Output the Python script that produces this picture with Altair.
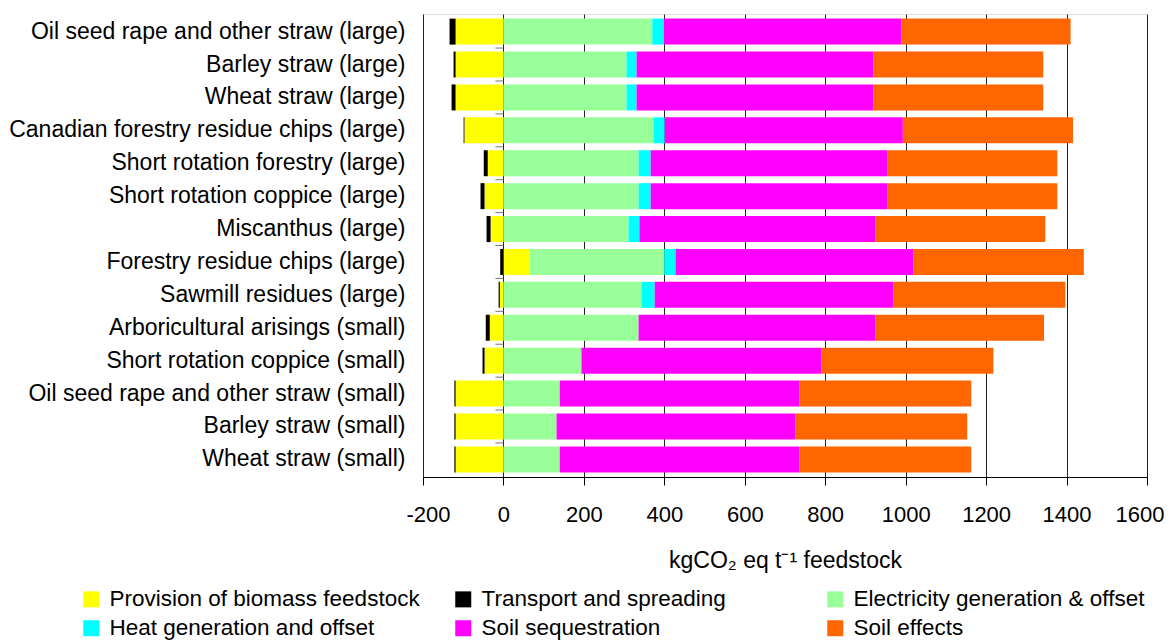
import altair as alt
import pandas as pd

categories = [
    "Oil seed rape and other straw (large)",
    "Barley straw (large)",
    "Wheat straw (large)",
    "Canadian forestry residue chips (large)",
    "Short rotation forestry (large)",
    "Short rotation coppice (large)",
    "Miscanthus (large)",
    "Forestry residue chips (large)",
    "Sawmill residues (large)",
    "Arboricultural arisings (small)",
    "Short rotation coppice (small)",
    "Oil seed rape and other straw (small)",
    "Barley straw (small)",
    "Wheat straw (small)",
]

series = [
    "Provision of biomass feedstock",
    "Transport and spreading",
    "Electricity generation & offset",
    "Heat generation and offset",
    "Soil sequestration",
    "Soil effects",
]
colors = ["#FFFF00", "#000000", "#99FF99", "#00FFFF", "#FF00FF", "#FF6600"]

provision = [-119, -119, -119, -97, -39, -47, -32, 65, -9, -34, -47, -119, -119, -119]
transport = [-15, -5, -10, -2, -10, -10, -10, -8, -3, -10, -5, -3, -3, -3]
electricity = [370, 306, 306, 373, 336, 336, 311, 335, 343, 336, 194, 140, 132, 140]
heat = [29, 25, 25, 28, 30, 30, 27, 28, 33, 0, 0, 0, 0, 0]
sequestration = [590, 589, 589, 592, 589, 589, 587, 591, 593, 589, 597, 596, 594, 596]
soil_effects = [421, 422, 422, 423, 422, 422, 422, 424, 428, 419, 427, 427, 427, 427]

x_ticks = [-200, 0, 200, 400, 600, 800, 1000, 1200, 1400, 1600]

values = [provision, transport, electricity, heat, sequestration, soil_effects]
rows = []
for si, (name, vals) in enumerate(zip(series, values)):
    for cat, v in zip(categories, vals):
        rows.append({"category": cat, "series": name, "order": si, "value": v})
df = pd.DataFrame(rows)

# legend fills column by column: order the domain so it reads row by row
legend_order = [0, 3, 1, 4, 2, 5]
legend_domain = [series[i] for i in legend_order]
legend_range = [colors[i] for i in legend_order]

FONT = "Liberation Sans"

bars = alt.Chart(df).mark_bar(strokeWidth=0).encode(
    y=alt.Y(
        "category:N",
        sort=categories,
        scale=alt.Scale(paddingInner=0.21, paddingOuter=0.14),
        axis=alt.Axis(
            title=None, labelFontSize=23, labelFont=FONT, labelColor="#000",
            labelPadding=18, ticks=False, tickSize=0, domain=False, grid=False,
            labelLimit=500,
        ),
    ),
    x=alt.X(
        "value:Q",
        stack="zero",
        scale=alt.Scale(domain=[-200, 1600], nice=False, zero=False),
        axis=alt.Axis(
            values=x_ticks, grid=True, gridColor="#222", gridWidth=1,
            domainColor="#000", tickColor="#000", tickSize=8,
            labelFontSize=22, labelFont=FONT, labelColor="#000", labelPadding=19,
            labelOverlap=False, labelFlush=True, labelFlushOffset=17,
            labelExpr="'' + datum.value",
            title="kgCO₂ eq t⁻¹ feedstock", titleFontSize=23, titleFont=FONT,
            titleFontWeight="normal", titleColor="#000", titlePadding=24,
        ),
    ),
    color=alt.Color(
        "series:N",
        scale=alt.Scale(domain=legend_domain, range=legend_range),
        legend=alt.Legend(
            title=None, orient="none", legendX=-343, legendY=574, columns=3,
            gridAlign="all", columnPadding=32, rowPadding=6,
            symbolType="square", symbolSize=256, symbolStrokeWidth=0,
            labelFontSize=22.5, labelFont=FONT, labelColor="#000",
            labelLimit=500, labelOffset=7,
        ),
    ),
    order=alt.Order("order:Q"),
)

tick_df = pd.DataFrame({"category": categories[1:]})
ticks = alt.Chart(tick_df).mark_rule(color="#777", strokeWidth=1, yOffset=-16.45).encode(
    y=alt.Y("category:N", sort=categories),
    x=alt.datum(-20),
    x2=alt.datum(0),
)

chart = alt.layer(bars, ticks).properties(
    width=724,
    height=463,
    autosize=alt.AutoSizeParams(type="none"),
    padding={"left": 415, "top": 6, "right": 18, "bottom": 167},
).configure_view(
    stroke="#444", strokeWidth=1
).configure(background="white")

chart.save("out.html", embed_options={"renderer": "svg", "actions": False})
